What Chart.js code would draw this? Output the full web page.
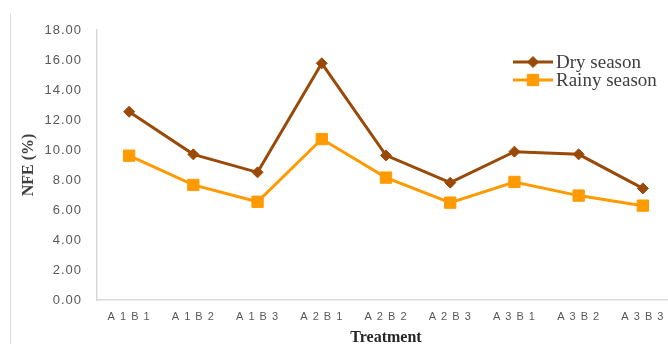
<!DOCTYPE html>
<html>
<head>
<meta charset="utf-8">
<script src="https://cdn.jsdelivr.net/npm/chart.js@4/dist/chart.umd.min.js"></script>
<style>
  html, body { margin: 0; padding: 0; background: #fff; overflow: hidden; }
  #wrap { position: relative; width: 684px; height: 350px; }
</style>
</head>
<body>
<div id="wrap"><canvas id="c" width="684" height="350"></canvas></div>
<script>
// Treatments (A = factor level, B = factor level)
const treatments = ['A1B1', 'A1B2', 'A1B3', 'A2B1', 'A2B2', 'A2B3', 'A3B1', 'A3B2', 'A3B3'];
// NFE (%) by season
const drySeason   = [12.55, 9.71, 8.51, 15.78, 9.64, 7.82, 9.89, 9.71, 7.44];
const rainySeason = [9.62, 7.67, 6.55, 10.73, 8.16, 6.49, 7.87, 6.96, 6.29];
// Y axis range and step
const yMin = 0, yMax = 18, yStep = 2;

const DRY = '#9A4A08';
const RAINY = '#FF9A00';
const AXIS = '#d9d9d9';
const TICK = '#595959';

// Tick labels (drawn in a layer above the datasets) get slightly spaced lettering
const tickSpacing = {
  id: 'tickSpacing',
  afterDatasetsDraw(chart) { chart.ctx.letterSpacing = '1px'; },
  afterDraw(chart) { chart.ctx.letterSpacing = '0px'; }
};

// Legend drawn inside the plot, upper right
const innerLegend = {
  id: 'innerLegend',
  afterDatasetsDraw(chart) {
    const ctx = chart.ctx;
    const items = chart.data.datasets;
    const x0 = 513, x1 = 553, tx = 556;
    const ys = [62, 80];
    ctx.save();
    ctx.letterSpacing = '0px';
    items.forEach((ds, i) => {
      const y = ys[i];
      ctx.strokeStyle = ds.borderColor;
      ctx.lineWidth = 3;
      ctx.beginPath();
      ctx.moveTo(x0, y);
      ctx.lineTo(x1, y);
      ctx.stroke();
      ctx.fillStyle = ds.pointBackgroundColor;
      ctx.strokeStyle = ds.pointBorderColor;
      ctx.lineWidth = ds.pointBorderWidth;
      Chart.helpers.drawPoint(ctx, {
        pointStyle: ds.pointStyle,
        radius: ds.pointRadius,
        borderWidth: ds.pointBorderWidth
      }, (x0 + x1) / 2, y);
      ctx.fillStyle = '#404040';
      ctx.font = '19px "Liberation Serif", "Times New Roman", serif';
      ctx.textAlign = 'left';
      ctx.textBaseline = 'middle';
      ctx.fillText(ds.label, tx, y + 1);
    });
    ctx.restore();
  }
};

// Thin frame line on the left side of the chart area
const frameLine = {
  id: 'frameLine',
  beforeDraw(chart) {
    const ctx = chart.ctx;
    ctx.save();
    ctx.strokeStyle = AXIS;
    ctx.lineWidth = 1;
    ctx.beginPath();
    ctx.moveTo(10.5, 14);
    ctx.lineTo(10.5, 350);
    ctx.stroke();
    ctx.restore();
  }
};

new Chart(document.getElementById('c'), {
  type: 'line',
  data: {
    labels: treatments,
    datasets: [
      {
        label: 'Dry season',
        data: drySeason,
        borderColor: DRY,
        backgroundColor: DRY,
        pointBackgroundColor: DRY,
        pointBorderColor: DRY,
        borderWidth: 3,
        pointStyle: 'rectRot',
        pointRadius: 5.5,
        pointBorderWidth: 1,
        tension: 0
      },
      {
        label: 'Rainy season',
        data: rainySeason,
        borderColor: RAINY,
        backgroundColor: RAINY,
        pointBackgroundColor: RAINY,
        pointBorderColor: RAINY,
        borderWidth: 3,
        pointStyle: 'rect',
        pointRadius: 8,
        pointBorderWidth: 1,
        tension: 0
      }
    ]
  },
  options: {
    responsive: false,
    animation: false,
    layout: { padding: { top: 30, right: 2.5, left: 0, bottom: 0 } },
    plugins: {
      legend: { display: false },
      tooltip: { enabled: false }
    },
    scales: {
      x: {
        offset: true,
        grid: { display: false, drawTicks: false },
        border: { display: true, color: AXIS, width: 1.5 },
        ticks: {
          z: 1,
          color: TICK,
          padding: 10,
          maxRotation: 0,
          autoSkip: false,
          font: { family: '"Liberation Sans", Arial, sans-serif', size: 11 },
          callback: function (v) { return this.getLabelForValue(v).split('').join(' '); }
        },
        title: {
          display: true,
          text: 'Treatment',
          color: '#262626',
          padding: { top: 0, bottom: 2.4 },
          font: { family: '"Liberation Serif", "Times New Roman", serif', size: 16, weight: 'bold' }
        },
        afterFit: s => { s.height = 50; }
      },
      y: {
        min: yMin,
        max: yMax,
        grid: { display: false, drawTicks: false },
        border: { display: true, color: AXIS, width: 1.5 },
        ticks: {
          z: 1,
          stepSize: yStep,
          color: TICK,
          padding: 15,
          font: { family: '"Liberation Sans", Arial, sans-serif', size: 13 },
          callback: v => v.toFixed(2)
        },
        title: {
          display: true,
          text: 'NFE (%)',
          color: '#404040',
          padding: { top: 19.4, bottom: 0 },
          font: { family: '"Liberation Serif", "Times New Roman", serif', size: 16, weight: 'bold' }
        },
        afterFit: s => { s.width = 97; }
      }
    }
  },
  plugins: [tickSpacing, frameLine, innerLegend]
});
</script>
</body>
</html>
